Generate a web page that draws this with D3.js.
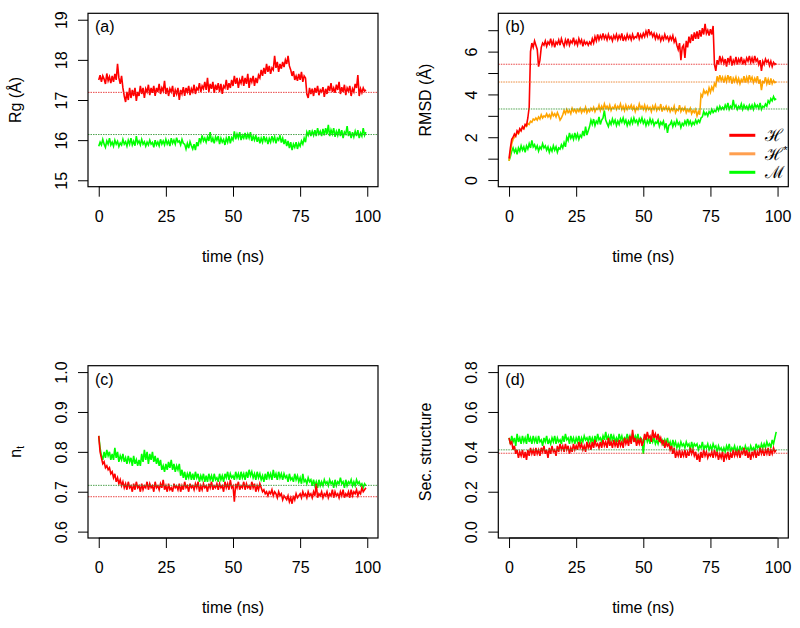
<!DOCTYPE html>
<html><head><meta charset="utf-8">
<script src="https://cdn.jsdelivr.net/npm/d3@7"></script>
<style>body{margin:0;background:#fff}svg{display:block}text{font-family:"Liberation Sans",Arial,sans-serif}</style>
</head><body>
<script>
// sample times (ns), every 0.5 ns
const time = d3.range(0, 100, 0.5);
const xTicks = [0, 25, 50, 75, 100];

// (a) Rg (Å)
const rgH = [
17.5,17.62,17.45,17.6,17.52,17.4,17.66,17.48,17.58,17.42,
17.6,17.45,17.65,17.5,17.9,17.55,17.4,17.6,17.3,17.1,
16.95,17.2,17.0,17.3,17.05,17.25,17.1,17.3,16.98,17.2,
17.1,17.35,17.15,17.3,17.05,17.28,17.2,17.38,17.12,17.3,
17.18,17.35,17.1,17.3,17.2,17.4,17.15,17.3,17.22,17.48,
17.15,17.3,17.1,17.28,17.2,17.35,17.08,17.25,17.15,17.3,
17.0,17.25,17.15,17.32,17.1,17.3,17.2,17.35,17.12,17.28,
17.2,17.38,17.15,17.3,17.25,17.42,17.2,17.35,17.28,17.45,
17.25,17.55,17.2,17.4,17.28,17.45,17.18,17.38,17.25,17.42,
17.2,17.4,17.15,17.35,17.3,17.5,17.25,17.42,17.3,17.5,
17.35,17.6,17.4,17.55,17.3,17.5,17.42,17.6,17.35,17.55,
17.4,17.65,17.3,17.55,17.45,17.6,17.35,17.55,17.42,17.62,
17.55,17.75,17.6,17.8,17.65,17.9,17.7,17.85,17.65,17.8,
17.75,18.1,17.8,17.95,17.7,17.9,17.78,17.95,17.82,18.0,
17.9,18.1,17.85,17.75,17.6,17.72,17.5,17.6,17.48,17.65,
17.5,17.7,17.45,17.6,17.55,17.15,17.05,17.3,17.15,17.28,
17.1,17.3,17.18,17.35,17.12,17.25,17.2,17.32,17.08,17.28,
17.15,17.35,17.22,17.42,17.2,17.3,17.18,17.38,17.25,17.45,
17.15,17.32,17.2,17.38,17.12,17.3,17.22,17.35,17.1,17.28,
17.2,17.4,17.3,17.62,17.1,17.28,17.18,17.3,17.22,17.25];
const rgM = [
15.85,15.95,15.88,16.02,15.9,15.82,15.98,15.9,16.05,15.88,
15.95,15.85,16.0,15.9,15.97,15.84,15.93,15.88,16.02,15.9,
15.96,15.85,16.0,15.9,16.05,15.88,15.97,15.86,16.1,15.92,
15.98,15.88,16.02,15.9,15.96,15.85,15.95,15.88,16.0,15.9,
15.94,15.82,16.0,15.88,15.95,15.86,16.02,15.9,15.98,15.88,
16.02,15.9,15.98,15.85,16.05,15.92,16.0,15.9,16.06,15.95,
15.98,15.88,16.02,15.92,15.9,15.78,15.92,15.8,15.96,15.86,
15.78,15.9,15.75,15.95,15.85,16.05,15.95,16.12,15.98,16.05,
15.95,16.08,15.98,16.2,15.95,16.05,15.92,16.08,16.0,16.1,
15.9,16.05,15.95,16.02,15.88,16.05,15.95,16.1,15.92,16.06,
16.0,16.22,16.02,16.15,16.05,16.2,16.0,16.12,16.05,16.18,
16.02,16.15,16.05,16.2,15.98,16.1,16.0,16.12,15.96,16.08,
15.92,16.05,15.95,16.1,15.98,16.05,15.9,16.04,15.95,16.1,
15.98,16.08,15.92,16.05,16.0,16.12,15.94,16.05,15.9,16.02,
15.85,15.98,15.8,15.95,15.75,15.9,15.82,15.95,15.78,15.92,
15.85,15.98,15.9,16.05,15.95,16.2,16.12,16.25,16.1,16.22,
16.12,16.25,16.1,16.3,16.15,16.22,16.1,16.28,16.12,16.3,
16.15,16.38,16.1,16.25,16.15,16.3,16.08,16.22,16.12,16.28,
16.1,16.25,16.05,16.2,16.15,16.35,16.1,16.22,16.05,16.2,
16.08,16.22,16.1,16.25,16.05,16.18,16.1,16.3,16.12,16.2];
const rgMeans = [17.19, 16.14];
const rgTicks = [15, 16, 17, 18, 19];

// (b) RMSD (Å)
const rmsdH = [
1.0,1.5,1.9,2.0,2.15,2.05,2.3,2.2,2.4,2.3,
2.5,2.4,2.6,2.55,2.9,3.4,6.0,6.4,6.2,6.5,
6.3,6.1,5.3,5.6,6.2,6.4,6.3,6.5,6.25,6.45,
6.35,6.6,6.3,6.5,6.2,6.45,6.35,6.55,6.3,6.6,
6.4,6.25,6.55,6.35,6.6,6.3,6.5,6.4,6.65,6.35,
6.5,6.3,6.6,6.4,6.55,6.25,6.5,6.35,6.45,6.3,
6.45,6.35,6.6,6.4,6.7,6.5,6.8,6.55,6.75,6.6,
6.85,6.6,6.75,6.55,6.8,6.6,6.7,6.5,6.75,6.6,
6.8,6.55,6.75,6.6,6.85,6.5,6.7,6.55,6.8,6.6,
6.75,6.55,6.8,6.6,6.7,6.65,6.9,6.6,6.8,6.65,
6.85,6.7,6.95,6.75,7.05,6.8,6.9,6.7,6.85,6.6,
6.8,6.6,6.75,6.5,6.7,6.55,6.8,6.6,6.7,6.5,
6.7,6.55,6.75,6.45,6.6,6.3,6.1,6.4,5.6,6.2,
6.3,5.7,6.5,6.2,6.7,6.4,6.8,6.5,6.9,6.6,
6.95,6.6,7.0,6.7,7.1,6.8,7.3,6.85,7.0,6.75,
7.05,6.8,7.2,5.4,5.1,5.6,5.4,5.8,5.5,5.7,
5.45,5.65,5.3,5.7,5.5,5.8,5.35,5.6,5.45,5.75,
5.4,5.65,5.5,5.75,5.4,5.6,5.45,5.7,5.55,5.8,
5.5,5.7,5.45,5.8,5.55,5.65,5.4,5.6,5.1,5.55,
5.4,5.65,5.5,5.6,5.35,5.55,5.3,5.5,5.4,5.45];
const rmsdHs = [
0.9,1.3,1.7,1.9,2.0,2.1,2.2,2.15,2.3,2.35,
2.45,2.4,2.55,2.5,2.65,2.6,2.75,2.7,2.85,2.8,
2.9,2.8,2.95,2.85,3.05,2.9,3.0,2.95,3.1,2.95,
3.05,2.9,3.15,3.0,3.1,2.95,3.15,3.0,2.8,2.9,
3.05,3.25,3.1,3.3,3.15,3.25,3.1,3.35,3.2,3.3,
3.15,3.3,3.2,3.35,3.15,3.3,3.2,3.4,3.15,3.3,
3.2,3.35,3.25,3.4,3.2,3.35,3.3,3.5,3.25,3.45,
3.3,3.55,3.35,3.45,3.3,3.5,3.25,3.4,3.35,3.5,
3.3,3.45,3.35,3.55,3.3,3.45,3.25,3.5,3.3,3.45,
3.35,3.5,3.3,3.45,3.2,3.4,3.3,3.55,3.35,3.45,
3.3,3.5,3.25,3.45,3.3,3.4,3.2,3.45,3.3,3.5,
3.25,3.4,3.3,3.55,3.2,3.4,3.3,3.45,3.25,3.4,
3.2,3.35,3.25,3.45,3.15,3.3,3.25,3.5,3.2,3.35,
3.25,3.4,3.15,3.3,3.2,3.35,3.1,3.25,3.15,3.3,
3.0,3.2,3.05,4.0,3.9,4.2,4.05,4.15,4.0,4.3,
4.1,4.35,4.2,4.5,4.4,4.85,4.6,4.9,4.65,4.8,
4.55,4.8,4.6,4.9,4.65,4.85,4.5,4.75,4.6,4.8,
4.55,4.75,4.5,4.7,4.6,4.85,4.55,4.8,4.6,4.9,
4.65,4.8,4.55,4.75,4.6,4.85,4.5,4.7,4.2,4.6,
4.55,4.8,4.5,4.7,4.45,4.75,4.5,4.65,4.55,4.6];
const rmsdM = [
0.9,1.1,1.35,1.5,1.3,1.45,1.2,1.5,1.35,1.6,
1.4,1.55,1.3,1.6,1.45,1.7,1.5,1.85,1.55,1.65,
1.45,1.6,1.35,1.55,1.45,1.7,1.5,1.6,1.4,1.55,
1.3,1.5,1.35,1.6,1.4,1.55,1.3,1.5,1.45,1.65,
1.5,1.75,1.55,2.0,1.85,2.2,1.95,2.1,1.9,2.2,
1.95,2.15,1.9,2.1,2.0,2.3,2.05,2.5,2.1,2.3,
2.5,2.8,2.6,2.85,2.55,2.75,2.65,2.95,2.6,2.8,
2.9,3.25,2.8,2.65,2.5,2.75,2.6,2.85,2.65,2.8,
2.55,2.75,2.6,2.85,2.7,2.9,2.65,2.8,2.55,2.75,
2.6,2.85,2.65,2.9,2.7,2.8,2.6,2.85,2.7,2.9,
2.65,2.8,2.55,2.75,2.6,2.85,2.65,2.8,2.55,2.7,
2.65,2.8,2.5,2.7,2.6,2.75,2.45,2.65,2.2,2.55,
2.6,2.75,2.5,2.7,2.55,2.8,2.6,2.7,2.45,2.65,
2.55,2.75,2.6,2.85,2.6,2.75,2.55,2.7,2.6,2.8,
2.65,2.8,2.7,2.9,2.95,3.2,3.05,3.15,3.0,3.2,
3.1,3.3,3.15,3.25,3.2,3.4,3.25,3.45,3.3,3.4,
3.3,3.5,3.35,3.6,3.3,3.45,3.35,3.75,3.4,3.5,
3.3,3.45,3.35,3.55,3.3,3.5,3.35,3.45,3.3,3.5,
3.35,3.5,3.3,3.55,3.4,3.5,3.35,3.6,3.3,3.45,
3.4,3.55,3.45,3.7,3.6,3.8,3.7,3.9,3.75,3.8];
const rmsdMeans = [5.41, 4.58, 3.32];
const rmsdTicks = [0, 1, 2, 3, 4, 5, 6, 7];
const rmsdTickLabels = ["0", "", "2", "", "4", "", "6", ""];
const legendLabels = ["\u210B", "\u210B*", "\u2133"];

// (c) n_t
const ntH = [
0.84,0.8,0.785,0.77,0.775,0.76,0.765,0.755,0.76,0.745,
0.75,0.735,0.745,0.725,0.735,0.72,0.73,0.715,0.725,0.71,
0.72,0.705,0.725,0.71,0.715,0.7,0.72,0.705,0.725,0.71,
0.715,0.7,0.72,0.705,0.715,0.71,0.725,0.705,0.72,0.71,
0.715,0.7,0.725,0.71,0.715,0.705,0.72,0.71,0.73,0.705,
0.715,0.7,0.72,0.705,0.71,0.7,0.72,0.71,0.715,0.705,
0.72,0.7,0.715,0.705,0.725,0.71,0.715,0.7,0.72,0.71,
0.715,0.705,0.72,0.71,0.725,0.7,0.715,0.705,0.72,0.71,
0.715,0.7,0.72,0.71,0.725,0.705,0.715,0.71,0.72,0.705,
0.72,0.71,0.715,0.7,0.725,0.71,0.72,0.705,0.73,0.71,
0.715,0.675,0.72,0.71,0.725,0.705,0.715,0.71,0.725,0.705,
0.72,0.71,0.715,0.705,0.725,0.71,0.72,0.7,0.715,0.705,
0.72,0.71,0.7,0.705,0.695,0.7,0.69,0.7,0.695,0.705,
0.69,0.7,0.695,0.685,0.7,0.69,0.695,0.68,0.69,0.685,
0.68,0.69,0.675,0.685,0.67,0.69,0.68,0.695,0.685,0.69,
0.695,0.685,0.7,0.69,0.695,0.685,0.7,0.69,0.695,0.685,
0.7,0.69,0.72,0.685,0.695,0.69,0.7,0.685,0.695,0.69,
0.7,0.685,0.695,0.69,0.705,0.685,0.7,0.69,0.695,0.685,
0.7,0.69,0.705,0.685,0.695,0.69,0.7,0.685,0.705,0.69,
0.7,0.695,0.705,0.69,0.7,0.695,0.71,0.7,0.705,0.71];
const ntM = [
0.84,0.81,0.79,0.78,0.8,0.785,0.805,0.79,0.8,0.78,
0.795,0.78,0.81,0.785,0.8,0.775,0.79,0.78,0.795,0.775,
0.785,0.77,0.79,0.775,0.785,0.765,0.79,0.77,0.78,0.765,
0.78,0.765,0.795,0.775,0.805,0.78,0.8,0.77,0.795,0.78,
0.8,0.775,0.79,0.77,0.785,0.765,0.78,0.755,0.765,0.75,
0.77,0.755,0.775,0.76,0.78,0.755,0.77,0.75,0.765,0.755,
0.77,0.74,0.755,0.735,0.75,0.73,0.745,0.735,0.75,0.73,
0.745,0.73,0.75,0.735,0.745,0.725,0.74,0.73,0.745,0.725,
0.74,0.725,0.745,0.73,0.74,0.725,0.745,0.73,0.735,0.725,
0.745,0.73,0.74,0.725,0.745,0.735,0.75,0.73,0.745,0.735,
0.74,0.73,0.75,0.735,0.745,0.73,0.75,0.735,0.745,0.73,
0.75,0.735,0.755,0.74,0.75,0.735,0.745,0.73,0.75,0.735,
0.745,0.73,0.74,0.725,0.745,0.73,0.75,0.735,0.745,0.73,
0.755,0.735,0.745,0.73,0.75,0.735,0.745,0.73,0.745,0.735,
0.74,0.725,0.745,0.73,0.735,0.725,0.745,0.73,0.74,0.725,
0.735,0.72,0.745,0.725,0.73,0.72,0.735,0.725,0.73,0.715,
0.73,0.715,0.725,0.71,0.73,0.715,0.725,0.715,0.73,0.72,
0.725,0.715,0.73,0.72,0.725,0.71,0.73,0.715,0.725,0.72,
0.735,0.72,0.725,0.71,0.73,0.715,0.725,0.72,0.73,0.715,
0.725,0.715,0.73,0.72,0.725,0.715,0.72,0.71,0.72,0.715];
const ntMeans = [0.6875, 0.716];
const ntTicks = [0.6, 0.7, 0.8, 0.9, 1.0];

// (d) Secondary structure
const ssH = [
0.47,0.44,0.45,0.41,0.43,0.39,0.41,0.37,0.4,0.38,
0.41,0.37,0.4,0.36,0.41,0.38,0.42,0.39,0.41,0.38,
0.42,0.39,0.41,0.38,0.42,0.4,0.43,0.39,0.41,0.37,
0.42,0.39,0.43,0.4,0.41,0.38,0.43,0.4,0.44,0.41,
0.43,0.4,0.44,0.41,0.43,0.39,0.42,0.4,0.44,0.41,
0.43,0.41,0.45,0.42,0.44,0.41,0.43,0.4,0.45,0.42,
0.44,0.41,0.45,0.42,0.46,0.43,0.44,0.42,0.45,0.42,
0.46,0.43,0.45,0.42,0.47,0.43,0.45,0.42,0.46,0.43,
0.45,0.42,0.46,0.43,0.45,0.42,0.47,0.44,0.46,0.43,
0.48,0.44,0.51,0.45,0.47,0.43,0.46,0.44,0.47,0.43,
0.45,0.49,0.46,0.5,0.47,0.48,0.45,0.51,0.47,0.49,
0.46,0.49,0.45,0.47,0.44,0.46,0.42,0.45,0.43,0.44,
0.41,0.43,0.39,0.42,0.37,0.4,0.38,0.41,0.37,0.4,
0.38,0.41,0.37,0.4,0.38,0.42,0.39,0.41,0.38,0.4,
0.36,0.39,0.35,0.4,0.37,0.41,0.38,0.4,0.37,0.39,
0.38,0.4,0.37,0.41,0.38,0.4,0.36,0.39,0.37,0.4,
0.35,0.39,0.37,0.4,0.36,0.39,0.37,0.41,0.38,0.4,
0.38,0.41,0.37,0.4,0.39,0.42,0.38,0.41,0.37,0.4,
0.36,0.4,0.38,0.41,0.37,0.4,0.38,0.42,0.39,0.41,
0.38,0.41,0.39,0.42,0.38,0.41,0.39,0.42,0.4,0.41];
const ssM = [
0.47,0.44,0.48,0.45,0.47,0.43,0.49,0.45,0.47,0.44,
0.48,0.45,0.47,0.44,0.49,0.45,0.47,0.44,0.48,0.45,
0.47,0.44,0.48,0.45,0.46,0.43,0.47,0.45,0.48,0.44,
0.46,0.44,0.47,0.45,0.48,0.44,0.47,0.45,0.46,0.44,
0.48,0.45,0.49,0.46,0.47,0.44,0.48,0.45,0.47,0.44,
0.47,0.45,0.48,0.44,0.47,0.45,0.48,0.46,0.47,0.45,
0.48,0.45,0.47,0.44,0.48,0.45,0.49,0.46,0.47,0.45,
0.48,0.46,0.5,0.46,0.48,0.45,0.49,0.46,0.48,0.45,
0.47,0.45,0.49,0.46,0.48,0.45,0.47,0.46,0.49,0.46,
0.48,0.45,0.49,0.46,0.48,0.46,0.49,0.45,0.47,0.46,
0.39,0.46,0.48,0.45,0.47,0.44,0.48,0.45,0.47,0.44,
0.46,0.44,0.47,0.45,0.46,0.43,0.46,0.44,0.47,0.43,
0.45,0.42,0.46,0.43,0.45,0.42,0.44,0.42,0.45,0.43,
0.44,0.42,0.45,0.43,0.44,0.41,0.45,0.42,0.44,0.43,
0.44,0.41,0.43,0.42,0.45,0.41,0.43,0.42,0.44,0.41,
0.43,0.41,0.44,0.42,0.43,0.4,0.43,0.41,0.42,0.4,
0.42,0.4,0.43,0.41,0.44,0.4,0.42,0.41,0.43,0.4,
0.42,0.39,0.43,0.41,0.42,0.4,0.43,0.41,0.42,0.4,
0.43,0.41,0.42,0.4,0.44,0.42,0.43,0.41,0.44,0.42,
0.44,0.42,0.45,0.43,0.44,0.42,0.46,0.44,0.47,0.5];
const ssMeans = [0.393, 0.41];
const ssTicks = [0.0, 0.2, 0.4, 0.6, 0.8];

const RED = "#ff0000", ORANGE = "#ffa500", GREEN = "#00ff00";
const MEAN_COLORS = {[RED]: "#e83030", [ORANGE]: "#e87a20", [GREEN]: "#3c9a3c"};

const svg = d3.select("body").append("svg").attr("width", 800).attr("height", 628);

function panel(opt) {
  const {left, top, w, h} = opt;
  const g = svg.append("g").attr("transform", `translate(${left},${top})`);
  const x = d3.scaleLinear().domain([-4, 104]).range([0, w]);
  const y = d3.scaleLinear().domain(opt.yDomain).range([h, 0]);
  const cid = "clip" + opt.tag.replace(/\W/g, "");
  g.append("clipPath").attr("id", cid).append("rect").attr("width", w).attr("height", h);
  const plot = g.append("g").attr("clip-path", `url(#${cid})`);
  const line = d3.line().x((d, i) => x(time[i])).y(d => y(d));
  opt.series.forEach(s => {
    plot.append("path").datum(s.values).attr("d", line)
      .attr("fill", "none").attr("stroke", s.color).attr("stroke-width", 1.6);
  });
  opt.means.forEach(m => {
    plot.append("line").attr("x1", 0).attr("x2", w).attr("y1", y(m.value)).attr("y2", y(m.value))
      .attr("stroke", MEAN_COLORS[m.color]).attr("stroke-width", 0.9).attr("stroke-dasharray", "1.5,1");
  });
  const xa = g.append("g").attr("transform", `translate(0,${h})`)
    .call(d3.axisBottom(x).tickValues(xTicks).tickSize(10).tickPadding(14).tickFormat(d3.format("d")));
  xa.select(".domain").attr("d", `M${x(0)},0H${x(100)}`);
  const ya = g.append("g")
    .call(d3.axisLeft(y).tickValues(opt.yTicks).tickSize(10).tickFormat((d, i) => opt.yLabels[i]));
  ya.select(".domain").remove();
  ya.selectAll(".tick text").attr("transform", "rotate(-90)").attr("x", 0).attr("y", -27)
    .attr("text-anchor", "middle").attr("dy", "0.35em");
  [xa, ya].forEach(a => {
    a.selectAll("text").attr("font-size", 16).attr("fill", "#000")
      .attr("font-family", "'Liberation Sans', Arial, sans-serif");
    a.selectAll("line").attr("stroke", "#000");
  });
  g.append("rect").attr("width", w).attr("height", h).attr("fill", "none").attr("stroke", "#000").attr("stroke-width", 1.2);
  g.append("text").attr("x", 7).attr("y", 19).attr("font-size", 16).text(opt.tag);
  g.append("text").attr("x", w / 2).attr("y", h + 75).attr("text-anchor", "middle").attr("font-size", 16).text("time (ns)");
  const yl = g.append("text").attr("transform", `translate(${-67},${h / 2}) rotate(-90)`)
    .attr("text-anchor", "middle").attr("font-size", 16);
  opt.yTitle(yl);
  return {g, x, y};
}

const W = 290, H = 173.4;
panel({left: 88, top: 13.3, w: W, h: H, tag: "(a)", yDomain: [14.84, 19.16], yTicks: rgTicks,
  yLabels: rgTicks.map(String),
  series: [{values: rgH, color: RED}, {values: rgM, color: GREEN}],
  means: [{value: rgMeans[0], color: RED}, {value: rgMeans[1], color: GREEN}],
  yTitle: t => t.text("Rg (Å)")});

const pb = panel({left: 498.3, top: 13.3, w: W, h: H, tag: "(b)", yDomain: [-0.31, 7.79], yTicks: rmsdTicks,
  yLabels: rmsdTickLabels,
  series: [{values: rmsdM, color: GREEN}, {values: rmsdHs, color: ORANGE}, {values: rmsdH, color: RED}],
  means: [{value: rmsdMeans[0], color: RED}, {value: rmsdMeans[1], color: ORANGE}, {value: rmsdMeans[2], color: GREEN}],
  yTitle: t => t.text("RMSD (Å)")});

const legColors = [RED, "#ff9f4f", GREEN];
const leg = pb.g.append("g").attr("transform", `translate(${231},${122})`);
legendLabels.forEach((lab, i) => {
  leg.append("line").attr("x1", 0).attr("x2", 26).attr("y1", i * 18.5).attr("y2", i * 18.5)
    .attr("stroke", legColors[i]).attr("stroke-width", 3);
  const t = leg.append("text").attr("x", 36).attr("y", i * 18.5 + 6).attr("font-size", 17)
    .attr("font-family", "'DejaVu Serif', serif");
  if (lab.endsWith("*")) {
    t.text(lab.slice(0, -1));
    t.append("tspan").attr("font-size", 11).attr("dy", -6).text("*");
  } else t.text(lab);
});

panel({left: 88, top: 365.7, w: W, h: 172.3, tag: "(c)", yDomain: [0.584, 1.016], yTicks: ntTicks,
  yLabels: ntTicks.map(d3.format(".1f")),
  series: [{values: ntM, color: GREEN}, {values: ntH, color: RED}],
  means: [{value: ntMeans[0], color: RED}, {value: ntMeans[1], color: GREEN}],
  yTitle: t => { t.text("n"); t.append("tspan").attr("font-size", 10).attr("dy", 3).text("t"); }});

panel({left: 498.3, top: 365.7, w: W, h: 172.3, tag: "(d)", yDomain: [-0.032, 0.832], yTicks: ssTicks,
  yLabels: ssTicks.map(d3.format(".1f")),
  series: [{values: ssM, color: GREEN}, {values: ssH, color: RED}],
  means: [{value: ssMeans[0], color: RED}, {value: ssMeans[1], color: GREEN}],
  yTitle: t => t.text("Sec. structure")});
</script>
</body></html>
